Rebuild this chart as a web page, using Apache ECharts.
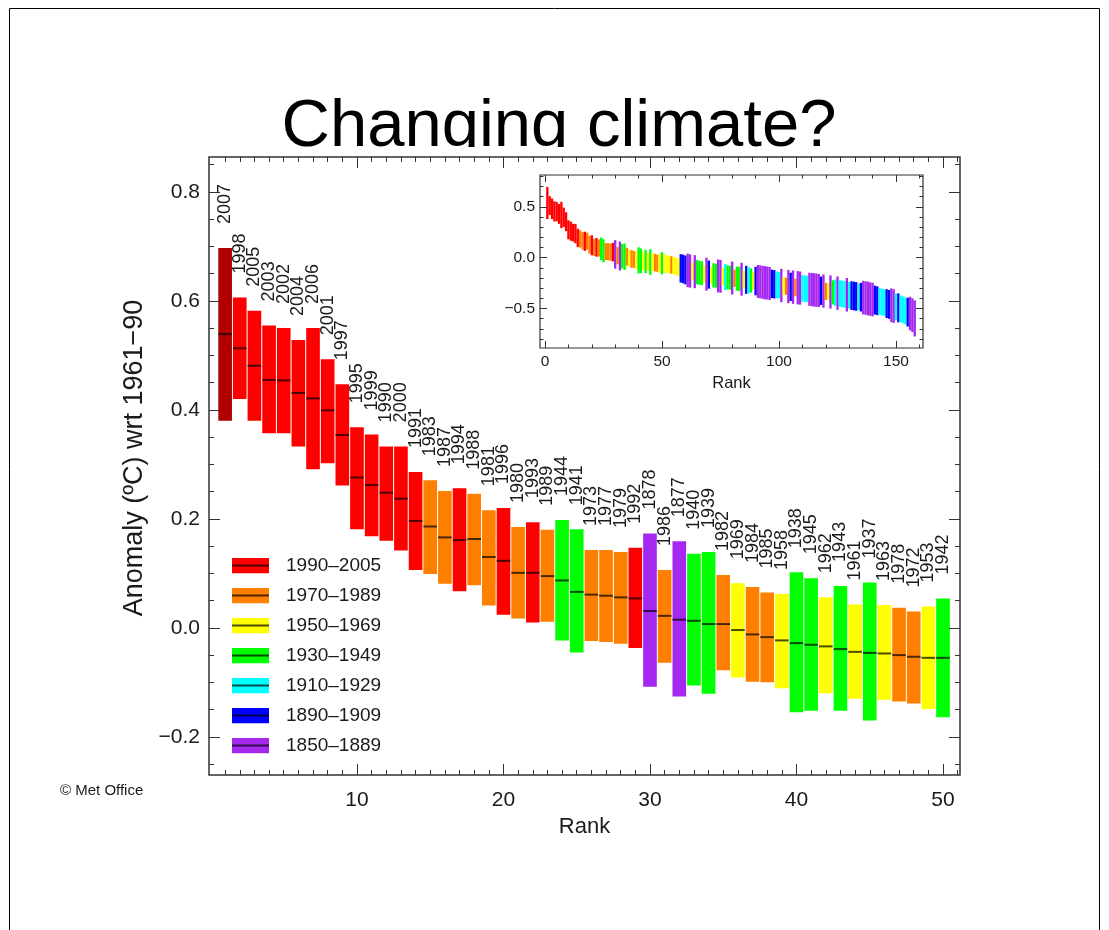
<!DOCTYPE html>
<html><head><meta charset="utf-8">
<script src="https://cdn.jsdelivr.net/npm/echarts@6/dist/echarts.min.js"></script>
<style>html,body{margin:0;padding:0;background:#fff}#c{width:1109px;height:930px}</style>
</head><body><div id="c"></div>
<script>
// ---------- DATA ----------
const years = [2007,1998,2005,2003,2002,2004,2006,2001,1997,1995,1999,1990,2000,1991,1983,1987,1994,1988,1981,1996,1980,1993,1989,1944,1941,1973,1977,1979,1992,1878,1986,1877,1940,1939,1982,1969,1984,1985,1958,1938,1945,1962,1943,1961,1937,1963,1978,1972,1953,1942];
const topVals = [0.697,0.606,0.582,0.555,0.550,0.528,0.550,0.493,0.447,0.368,0.355,0.333,0.333,0.286,0.271,0.251,0.256,0.246,0.216,0.220,0.185,0.194,0.180,0.198,0.181,0.143,0.143,0.139,0.147,0.173,0.106,0.159,0.136,0.139,0.097,0.082,0.075,0.065,0.062,0.102,0.091,0.056,0.077,0.043,0.083,0.042,0.037,0.030,0.039,0.054];
const centreVals = [0.539,0.513,0.481,0.455,0.454,0.431,0.421,0.399,0.354,0.276,0.262,0.248,0.237,0.196,0.186,0.166,0.161,0.163,0.130,0.123,0.101,0.101,0.095,0.087,0.066,0.061,0.059,0.056,0.054,0.031,0.022,0.015,0.013,0.007,0.007,-0.004,-0.012,-0.017,-0.023,-0.028,-0.031,-0.034,-0.039,-0.044,-0.046,-0.047,-0.050,-0.053,-0.055,-0.055];
const bottomVals = [0.380,0.420,0.380,0.357,0.357,0.333,0.291,0.302,0.261,0.181,0.168,0.160,0.142,0.106,0.099,0.081,0.067,0.078,0.041,0.024,0.017,0.010,0.011,-0.023,-0.045,-0.024,-0.026,-0.029,-0.037,-0.108,-0.064,-0.126,-0.106,-0.121,-0.078,-0.091,-0.099,-0.100,-0.111,-0.155,-0.152,-0.120,-0.152,-0.130,-0.170,-0.132,-0.135,-0.139,-0.149,-0.164];

const periodNames = ['1990\u20132005','1970\u20131989','1950\u20131969','1930\u20131949','1910\u20131929','1890\u20131909','1850\u20131889'];
const periodStarts = [1990,1970,1950,1930,1910,1890,1850];
const periodColors = ['#ff0000','#ff8000','#ffff00','#00ff00','#00ffff','#0000ff','#a428f0'];
const forecastYear = 2007;
const forecastColor = '#b00000';

// inset: ranks 51..158 (ranks 1..50 are the bars above); period index per rank
const insetPeriods = [2,2,2,1,2,2,2,5,5,5,6,6,2,6,3,3,3,2,6,5,2,3,3,6,6,2,4,3,3,6,1,3,3,6,2,5,4,3,2,5,6,6,6,6,6,6,5,5,4,4,6,2,1,6,5,6,1,6,6,4,4,4,6,6,6,6,6,5,6,1,2,6,3,4,6,4,4,4,6,4,5,5,5,4,5,6,6,6,6,6,5,5,4,4,4,5,5,6,6,4,5,4,4,4,5,6,6,6];
const insetTop = [0.030,0.025,0.020,0.014,0.010,0.003,-0.006,0.035,0.030,0.022,0.040,0.032,-0.048,0.025,-0.022,-0.030,-0.035,-0.072,0.000,-0.028,-0.085,-0.055,-0.058,-0.018,-0.022,-0.100,-0.062,-0.075,-0.078,-0.038,-0.118,-0.088,-0.090,-0.050,-0.128,-0.080,-0.092,-0.105,-0.140,-0.090,-0.072,-0.075,-0.080,-0.083,-0.088,-0.092,-0.118,-0.122,-0.135,-0.140,-0.110,-0.192,-0.196,-0.120,-0.148,-0.126,-0.208,-0.132,-0.136,-0.172,-0.175,-0.178,-0.148,-0.150,-0.153,-0.156,-0.160,-0.186,-0.166,-0.248,-0.250,-0.175,-0.222,-0.215,-0.185,-0.222,-0.226,-0.230,-0.200,-0.238,-0.232,-0.236,-0.240,-0.254,-0.248,-0.228,-0.232,-0.236,-0.242,-0.246,-0.276,-0.282,-0.298,-0.305,-0.312,-0.310,-0.318,-0.302,-0.310,-0.353,-0.352,-0.371,-0.381,-0.392,-0.394,-0.385,-0.400,-0.420];
const insetBottom = [-0.146,-0.150,-0.155,-0.158,-0.165,-0.172,-0.182,-0.245,-0.252,-0.262,-0.290,-0.295,-0.220,-0.300,-0.262,-0.268,-0.272,-0.245,-0.325,-0.305,-0.255,-0.292,-0.296,-0.342,-0.345,-0.273,-0.318,-0.312,-0.315,-0.362,-0.288,-0.325,-0.328,-0.374,-0.302,-0.356,-0.350,-0.343,-0.314,-0.370,-0.396,-0.400,-0.405,-0.410,-0.412,-0.416,-0.398,-0.402,-0.397,-0.400,-0.438,-0.364,-0.366,-0.448,-0.426,-0.454,-0.378,-0.460,-0.462,-0.432,-0.435,-0.438,-0.474,-0.478,-0.481,-0.484,-0.486,-0.466,-0.492,-0.416,-0.420,-0.501,-0.460,-0.475,-0.513,-0.484,-0.488,-0.492,-0.530,-0.500,-0.514,-0.518,-0.522,-0.516,-0.530,-0.558,-0.562,-0.568,-0.572,-0.578,-0.560,-0.566,-0.562,-0.569,-0.576,-0.594,-0.602,-0.634,-0.642,-0.617,-0.636,-0.635,-0.645,-0.656,-0.678,-0.715,-0.732,-0.775];

// tick values
const mainXTicks = [10,20,30,40,50];
const mainXMinor = [1,2,3,4,5,6,7,8,9,10,11,12,13,14,15,16,17,18,19,20,21,22,23,24,25,26,27,28,29,30,31,32,33,34,35,36,37,38,39,40,41,42,43,44,45,46,47,48,49,50,51];
const mainYTicks = [-0.2,0,0.2,0.4,0.6,0.8];
const mainYMinor = [-0.25,-0.2,-0.15,-0.1,-0.05,0,0.05,0.1,0.15,0.2,0.25,0.3,0.35,0.4,0.45,0.5,0.55,0.6,0.65,0.7,0.75,0.8,0.85];
const insetXTicks = [0,50,100,150];
const insetXMinor = [0,10,20,30,40,50,60,70,80,90,100,110,120,130,140,150,160];
const insetYTicks = [-0.5,0,0.5];
const insetYMinor = [-0.8,-0.7,-0.6,-0.5,-0.4,-0.3,-0.2,-0.1,0,0.1,0.2,0.3,0.4,0.5,0.6,0.7,0.8];

// ---------- CHART ----------
const FONT = "'Liberation Sans', Arial, Helvetica, sans-serif";
const INK = '#1a1a1a';
function periodOf(y){ for (let i=0;i<periodStarts.length;i++){ if (y>=periodStarts[i]) return i; } return periodStarts.length-1; }
function colorOfYear(y){ return y===forecastYear ? forecastColor : periodColors[periodOf(y)]; }
function fmt(v){ return (v<0?'\u2212':'') + Math.abs(v).toFixed(1); }

function swatchIcon(color){
  const svg = '<svg xmlns="http://www.w3.org/2000/svg" width="49" height="16"><rect x="0" y="0" width="37" height="16" fill="'+color+'"/><line x1="0" y1="8" x2="37" y2="8" stroke="#000" stroke-opacity="0.7" stroke-width="2"/></svg>';
  return 'image://data:image/svg+xml;charset=utf-8,' + encodeURIComponent(svg);
}

const chart = echarts.init(document.getElementById('c'), null, {renderer:'canvas'});

const MAIN = {x:[-0.1,51.16], y:[-0.27,0.864]};
const INS = {x:[-2.14,161.54], y:[-0.889,0.814]};
const tickLine = {color:'#333', width:1};

function fmtSel(f){ return f==='int' ? (v)=>String(Math.round(v)) : (v)=>fmt(v); }
function ax(grid, pos, range, ticks, len, label, extra){
  return Object.assign({
    type:'value', gridIndex:grid, position:pos, min:range[0], max:range[1], z: grid===1 ? 8 : 3,
    axisLine:{show:false, onZero:false}, splitLine:{show:false},
    axisTick:{show:true, inside:true, length:len, customValues:ticks, lineStyle:tickLine},
    axisLabel: label ? Object.assign({customValues:ticks, color:INK, fontFamily:FONT, formatter:fmtSel(label.fmt)}, label.opt) : {show:false}
  }, extra||{});
}

const xAxes = [
  ax(0,'bottom',MAIN.x,mainXTicks,11,{fmt:'int',opt:{fontSize:21,margin:15}},{name:'Rank',nameLocation:'middle',nameGap:41,nameTextStyle:{fontSize:22,fontFamily:FONT,color:INK}}),
  ax(0,'bottom',MAIN.x,mainXMinor,5,null),
  ax(0,'top',MAIN.x,mainXTicks,11,null),
  ax(0,'top',MAIN.x,mainXMinor,5,null),
  ax(1,'bottom',INS.x,insetXTicks,7,{fmt:'int',opt:{fontSize:15.5,margin:6}},{name:'Rank',nameLocation:'middle',nameGap:27,nameTextStyle:{fontSize:16.5,fontFamily:FONT,color:INK}}),
  ax(1,'bottom',INS.x,insetXMinor,3.5,null),
  ax(1,'top',INS.x,insetXTicks,7,null),
  ax(1,'top',INS.x,insetXMinor,3.5,null)
];
const yAxes = [
  ax(0,'left',MAIN.y,mainYTicks,11,{fmt:'f1',opt:{fontSize:21,margin:9}},{name:'Anomaly (\u00baC) wrt 1961\u221290',nameLocation:'middle',nameGap:61,nameRotate:90,nameTextStyle:{fontSize:27,fontFamily:FONT,color:INK,padding:[0,0,0,16]}}),
  ax(0,'left',MAIN.y,mainYMinor,5,null),
  ax(0,'right',MAIN.y,mainYTicks,11,null),
  ax(0,'right',MAIN.y,mainYMinor,5,null),
  ax(1,'left',INS.y,insetYTicks,7,{fmt:'f1',opt:{fontSize:15.5,margin:5}}),
  ax(1,'left',INS.y,insetYMinor,3.5,null),
  ax(1,'right',INS.y,insetYTicks,7,null),
  ax(1,'right',INS.y,insetYMinor,3.5,null)
];

function mainRender(params, api){
  const idx = api.value(4);
  const r = api.value(0);
  const a = api.coord([r-0.5, api.value(1)]);
  const b = api.coord([r+0.5, api.value(2)]);
  const m = api.coord([r, api.value(3)]);
  const yr = years[idx];
  return {type:'group', children:[
    {type:'rect', shape:{x:a[0]+0.5, y:a[1], width:b[0]-a[0]-1, height:b[1]-a[1]}, style:{fill:colorOfYear(yr)}},
    {type:'line', shape:{x1:a[0]+0.5, y1:m[1], x2:b[0]-0.5, y2:m[1]}, style:{stroke:'rgba(0,0,0,0.7)', lineWidth:2}},
    {type:'text', x:m[0], y:a[1]-24, rotation:Math.PI/2, style:{text:String(yr), align:'left', verticalAlign:'middle', fontSize:18, fontFamily:FONT, fill:INK}}
  ]};
}
function insetRender(params, api){
  const r = api.value(0);
  const a = api.coord([r-0.5, api.value(1)]);
  const b = api.coord([r+0.5, api.value(2)]);
  const p = api.value(3);
  return {type:'rect', shape:{x:a[0], y:a[1], width:b[0]-a[0], height:b[1]-a[1]}, style:{fill:periodColors[p]}};
}

const series = periodNames.map((name, pi) => ({
  name: name, type:'custom', xAxisIndex:0, yAxisIndex:0, color: periodColors[pi], z:2,
  renderItem: mainRender, encode:{x:0, y:[1,2,3]},
  data: years.map((y,i)=>[i+1, topVals[i], bottomVals[i], centreVals[i], i]).filter(d => periodOf(years[d[4]])===pi)
}));

const insetData = [];
years.forEach((y,i)=>insetData.push([i+1, topVals[i], bottomVals[i], periodOf(y)]));
insetPeriods.forEach((p,k)=>insetData.push([51+k, insetTop[k], insetBottom[k], p]));
series.push({name:'inset', type:'custom', xAxisIndex:4, yAxisIndex:4, renderItem:insetRender, encode:{x:0,y:[1,2]}, data:insetData, z:6});

const option = {
  animation:false,
  backgroundColor:'#ffffff',
  grid:[
    {left:209, top:157, width:751, height:618, show:true, borderColor:'#333', borderWidth:1.5, backgroundColor:'rgba(0,0,0,0)', z:1},
    {left:540, top:175, width:383, height:173, show:true, borderColor:'#333', borderWidth:1.2, backgroundColor:'#ffffff', z:4}
  ],
  xAxis: xAxes, yAxis: yAxes,
  legend:{
    orient:'vertical', left:232, top:556, padding:0, itemWidth:49, itemHeight:16, itemGap:11, selectedMode:false,
    textStyle:{fontSize:19, fontFamily:FONT, color:INK},
    data: periodNames.map((n,i)=>({name:n, icon:swatchIcon(periodColors[i])}))
  },
  graphic:[
    {type:'rect', z:0, shape:{x:9.5, y:8.5, width:1090, height:940}, style:{fill:'none', stroke:'#000', lineWidth:1}},
    {type:'text', z:0, x:559, y:128, style:{text:'Changing climate?', align:'center', verticalAlign:'middle', fontSize:67, fontFamily:FONT, fill:'#000'}},
    {type:'rect', z:0.5, shape:{x:150, y:147, width:830, height:28}, style:{fill:'#fff'}},
    {type:'text', z:0, x:60, y:791, style:{text:'\u00a9 Met Office', align:'left', verticalAlign:'middle', fontSize:15, fontFamily:FONT, fill:INK}}
  ],
  series: series
};
chart.setOption(option);
</script></body></html>
